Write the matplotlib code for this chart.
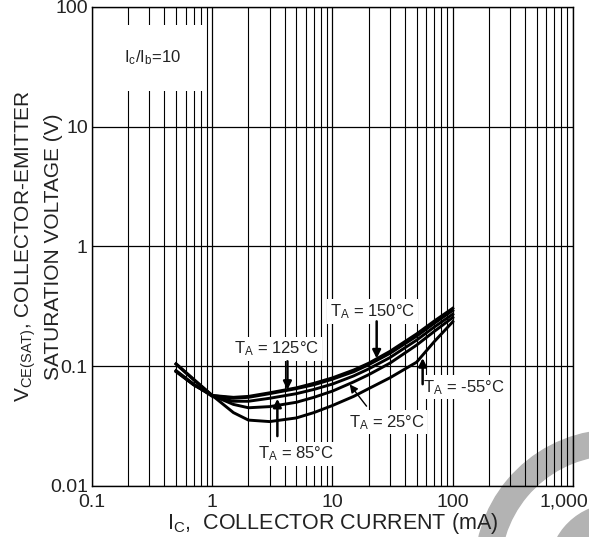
import numpy as np
import matplotlib
matplotlib.use("Agg")
import matplotlib.pyplot as plt
from matplotlib.patches import Wedge
from matplotlib.transforms import IdentityTransform, ScaledTranslation

plt.rcParams['font.family'] = ['Liberation Sans', 'DejaVu Sans']
plt.rcParams['mathtext.fontset'] = 'custom'
plt.rcParams['mathtext.rm'] = 'Liberation Sans'
plt.rcParams['mathtext.it'] = 'Liberation Sans'

# collector current (mA)
ic = [0.5, 0.7, 1, 1.5, 2, 3, 5, 7, 10, 15, 20, 30, 50, 70, 100]

# VCE(sat) (V) per ambient temperature
v_150 = [0.090, 0.070, 0.057, 0.055, 0.056, 0.060, 0.066, 0.072, 0.080, 0.093, 0.106, 0.133, 0.186, 0.238, 0.305]
v_125 = [0.091, 0.070, 0.057, 0.054, 0.055, 0.059, 0.065, 0.070, 0.078, 0.090, 0.103, 0.128, 0.178, 0.228, 0.292]
v_85 = [0.092, 0.071, 0.056, 0.051, 0.051, 0.054, 0.059, 0.064, 0.071, 0.083, 0.095, 0.118, 0.165, 0.212, 0.272]
v_25 = [0.104, 0.077, 0.057, 0.048, 0.045, 0.046, 0.050, 0.055, 0.062, 0.074, 0.085, 0.106, 0.150, 0.195, 0.255]
v_m55 = [0.105, 0.078, 0.057, 0.041, 0.0355, 0.0345, 0.037, 0.041, 0.047, 0.056, 0.065, 0.080, 0.108, 0.160, 0.235]

xticks = [0.1, 1, 10, 100, 1000]
xticklabels = ['0.1', '1', '10', '100', '1,000']
yticks = [0.01, 0.1, 1, 10, 100]
yticklabels = ['0.01', '0.1', '1', '10', '100']

fig = plt.figure(figsize=(5.89, 5.37), dpi=100)
ax = fig.add_axes([0.1562, 0.0950, 0.8166, 0.8920])
ax.patch.set_alpha(0)

# grey watermark arcs (pixel coords, origin bottom-left)
fig.patches.append(Wedge((615, -33), 140, 95, 185, width=25, color='#b3b3b3',
                         transform=IdentityTransform(), zorder=-5))
fig.patches.append(Wedge((615, -33), 66, 95, 185, width=25, color='#b3b3b3',
                         transform=IdentityTransform(), zorder=-5))

for v in [v_150, v_125, v_85, v_25, v_m55]:
    ax.plot(ic, v, color='black', lw=2.1, zorder=3)

ax.set_xscale('log')
ax.set_yscale('log')
ax.set_xlim(0.1, 1000)
ax.set_ylim(0.01, 100)

ax.grid(True, which='major', axis='both', color='black', lw=0.9)
ax.grid(True, which='minor', axis='x', color='black', lw=0.8)
ax.grid(False, which='minor', axis='y')

ax.set_xticks(xticks)
ax.set_xticklabels(xticklabels)
ax.set_yticks(yticks)
ax.set_yticklabels(yticklabels)
ax.tick_params(which='both', length=0, labelsize=14, colors='#222222')
ax.tick_params(axis='x', pad=5.5)
ax.tick_params(axis='y', pad=3)
for s in ax.spines.values():
    s.set_linewidth(1.0)

# last x label sits flush with the right edge
last = ax.xaxis.get_major_ticks()[-1].label1
last.set_ha('right')
last.set_transform(last.get_transform() + ScaledTranslation(15 / 100, 0, fig.dpi_scale_trans))

ax.set_xlabel(r'I$_\mathrm{C}$,  COLLECTOR CURRENT (mA)', fontsize=15.5, color='#222222', labelpad=0.5)
ax.set_ylabel(r'V$_\mathrm{CE(SAT)}$, COLLECTOR-EMITTER' + '\n' + 'SATURATION VOLTAGE (V)',
              fontsize=15, color='#222222', linespacing=1.4)
ax.yaxis.set_label_coords(-0.061, 0.5)

box = dict(facecolor='white', edgecolor='none', pad=2)
ax.text(0.316, 37.6, r'I$_\mathrm{c}$/I$_\mathrm{b}$=10', fontsize=12, ha='center', va='center',
        color='#222222', bbox=dict(facecolor='white', edgecolor='none', pad=17), zorder=4)

labels = [
    (r'T$_\mathrm{A}$ = 150°C', 21.5, 0.287),
    (r'T$_\mathrm{A}$ = 125°C', 3.41, 0.139),
    (r'T$_\mathrm{A}$ = 85°C', 5.0, 0.0185),
    (r'T$_\mathrm{A}$ = 25°C', 28.2, 0.0341),
    (r'T$_\mathrm{A}$ = -55°C', 123.5, 0.0668),
]
for txt, x, y in labels:
    ax.text(x, y, txt, fontsize=12, ha='center', va='center', color='#222222', bbox=box, zorder=4)

# arrows: (tail, tip, line width)
arrows = [
    ((23.3, 0.237), (23.3, 0.116), 1.8),
    ((4.22, 0.110), (4.22, 0.0635), 1.8),
    ((3.48, 0.0261), (3.48, 0.0535), 1.8),
    ((19.2, 0.0464), (13.9, 0.0705), 1.0),
    ((56.2, 0.0708), (56.2, 0.117), 1.8),
]
for tail, tip, w in arrows:
    ax.annotate('', xy=tip, xytext=tail, zorder=5,
                arrowprops=dict(arrowstyle='-|>', color='black', lw=w,
                                mutation_scale=12, shrinkA=0, shrinkB=0))

fig.savefig('out.png', dpi=100)
